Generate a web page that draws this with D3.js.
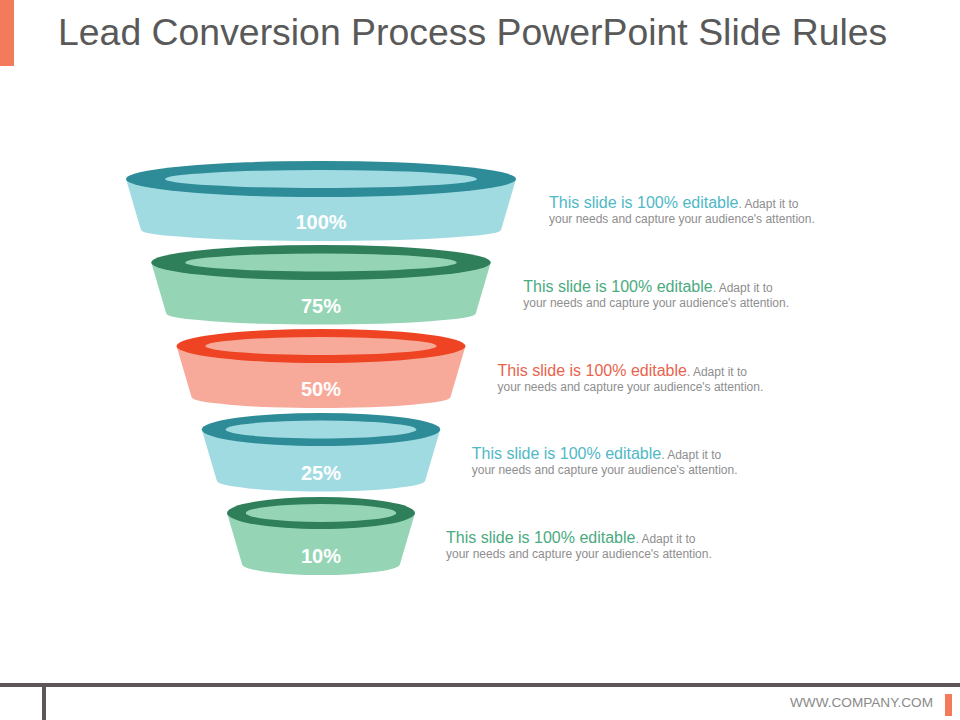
<!DOCTYPE html>
<html>
<head>
<meta charset="utf-8">
<script src="https://cdn.jsdelivr.net/npm/d3@7"></script>
<style>
html,body{margin:0;padding:0;background:#ffffff;}
svg{display:block;font-family:"Liberation Sans",Arial,Helvetica,sans-serif;}
</style>
</head>
<body>
<script>
// ---------- data ----------
const stages = ["Stage 1", "Stage 2", "Stage 3", "Stage 4", "Stage 5"];
const values = [100, 75, 50, 25, 10];
const valueLabels = ["100%", "75%", "50%", "25%", "10%"];
const headings = [
  "This slide is 100% editable",
  "This slide is 100% editable",
  "This slide is 100% editable",
  "This slide is 100% editable",
  "This slide is 100% editable"
];
const headingTails = [". Adapt it to", ". Adapt it to", ". Adapt it to", ". Adapt it to", ". Adapt it to"];
const secondLines = [
  "your needs and capture your audience's attention.",
  "your needs and capture your audience's attention.",
  "your needs and capture your audience's attention.",
  "your needs and capture your audience's attention.",
  "your needs and capture your audience's attention."
];
const titleText = "Lead Conversion Process PowerPoint Slide Rules";
const footerText = "WWW.COMPANY.COM";

// ---------- styles ----------
const darkColors  = ["#2d8c97", "#2f7f5b", "#ee4424", "#2d8c97", "#2f7f5b"];
const lightColors = ["#a0dbe2", "#95d5b5", "#f7aa9a", "#a0dbe2", "#95d5b5"];
const headColors  = ["#4fb8c6", "#4aaa80", "#e8634c", "#4fb8c6", "#4aaa80"];
const grayText = "#8e8e8e";

const W = 960, H = 720;
const svg = d3.select("body").append("svg").attr("width", W).attr("height", H);

// ---------- frame ----------
svg.append("rect").attr("x", 0).attr("y", 0).attr("width", 14).attr("height", 66).attr("fill", "#f47a5c");
svg.append("text").attr("x", 58).attr("y", 45).attr("font-size", 37.4).attr("fill", "#595959").text(titleText);

svg.append("rect").attr("x", 0).attr("y", 683).attr("width", 960).attr("height", 4).attr("fill", "#5d5557");
svg.append("rect").attr("x", 42).attr("y", 686).attr("width", 4).attr("height", 34).attr("fill", "#5d5557");
svg.append("text").attr("x", 933).attr("y", 707).attr("text-anchor", "end")
  .attr("font-size", 13.6).attr("fill", "#8a8a8a").text(footerText);
svg.append("rect").attr("x", 945).attr("y", 694).attr("width", 7).attr("height", 22).attr("fill", "#f47a5c");

// ---------- scales ----------
const idx = d3.range(stages.length);
const yTop = d3.scalePoint().domain(stages).range([179, 513]);
const yText = d3.scalePoint().domain(stages).range([208, 543]);
const xText = d3.scalePoint().domain(stages).range([549, 446]);
const rxOuter = d3.scaleLinear().domain([0, stages.length - 1]).range([195, 94]);
const ryOuter = d3.scaleLinear().domain([0, stages.length - 1]).range([18, 16]);
const cx = 321;
const bodyH = 51, bottomRy = 11;

const data = idx.map(i => ({
  stage: stages[i], value: values[i], label: valueLabels[i],
  cy: yTop(stages[i]), rx: rxOuter(i), ry: ryOuter(i),
  dark: darkColors[i], light: lightColors[i], head: headColors[i],
  heading: headings[i], tail: headingTails[i], line2: secondLines[i],
  tx: xText(stages[i]), ty: yText(stages[i])
}));

function bodyPath(d) {
  const rxb = d.rx - 15;
  const yb = d.cy + bodyH;
  return `M${cx - d.rx},${d.cy} L${cx - rxb},${yb} A${rxb},${bottomRy} 0 0 0 ${cx + rxb},${yb} L${cx + d.rx},${d.cy} Z`;
}

const seg = svg.append("g").selectAll("g").data(data).join("g");
seg.append("path").attr("d", bodyPath).attr("fill", d => d.light);
seg.append("ellipse").attr("cx", cx).attr("cy", d => d.cy).attr("rx", d => d.rx).attr("ry", d => d.ry).attr("fill", d => d.dark);
seg.append("ellipse").attr("cx", cx).attr("cy", d => d.cy).attr("rx", d => d.rx * 0.8).attr("ry", 9).attr("fill", d => d.light);
seg.append("text").attr("x", cx).attr("y", d => d.cy + 50).attr("text-anchor", "middle")
  .attr("font-size", 20).attr("font-weight", "bold").attr("fill", "#ffffff").text(d => d.label);

// ---------- descriptions ----------
const desc = svg.append("g").selectAll("g").data(data).join("g");
const t1 = desc.append("text").attr("x", d => d.tx).attr("y", d => d.ty);
t1.append("tspan").attr("font-size", 16).attr("fill", d => d.head).text(d => d.heading);
t1.append("tspan").attr("font-size", 12).attr("fill", grayText).text(d => d.tail);
desc.append("text").attr("x", d => d.tx).attr("y", d => d.ty + 15)
  .attr("font-size", 12).attr("fill", grayText).text(d => d.line2);
</script>
</body>
</html>
